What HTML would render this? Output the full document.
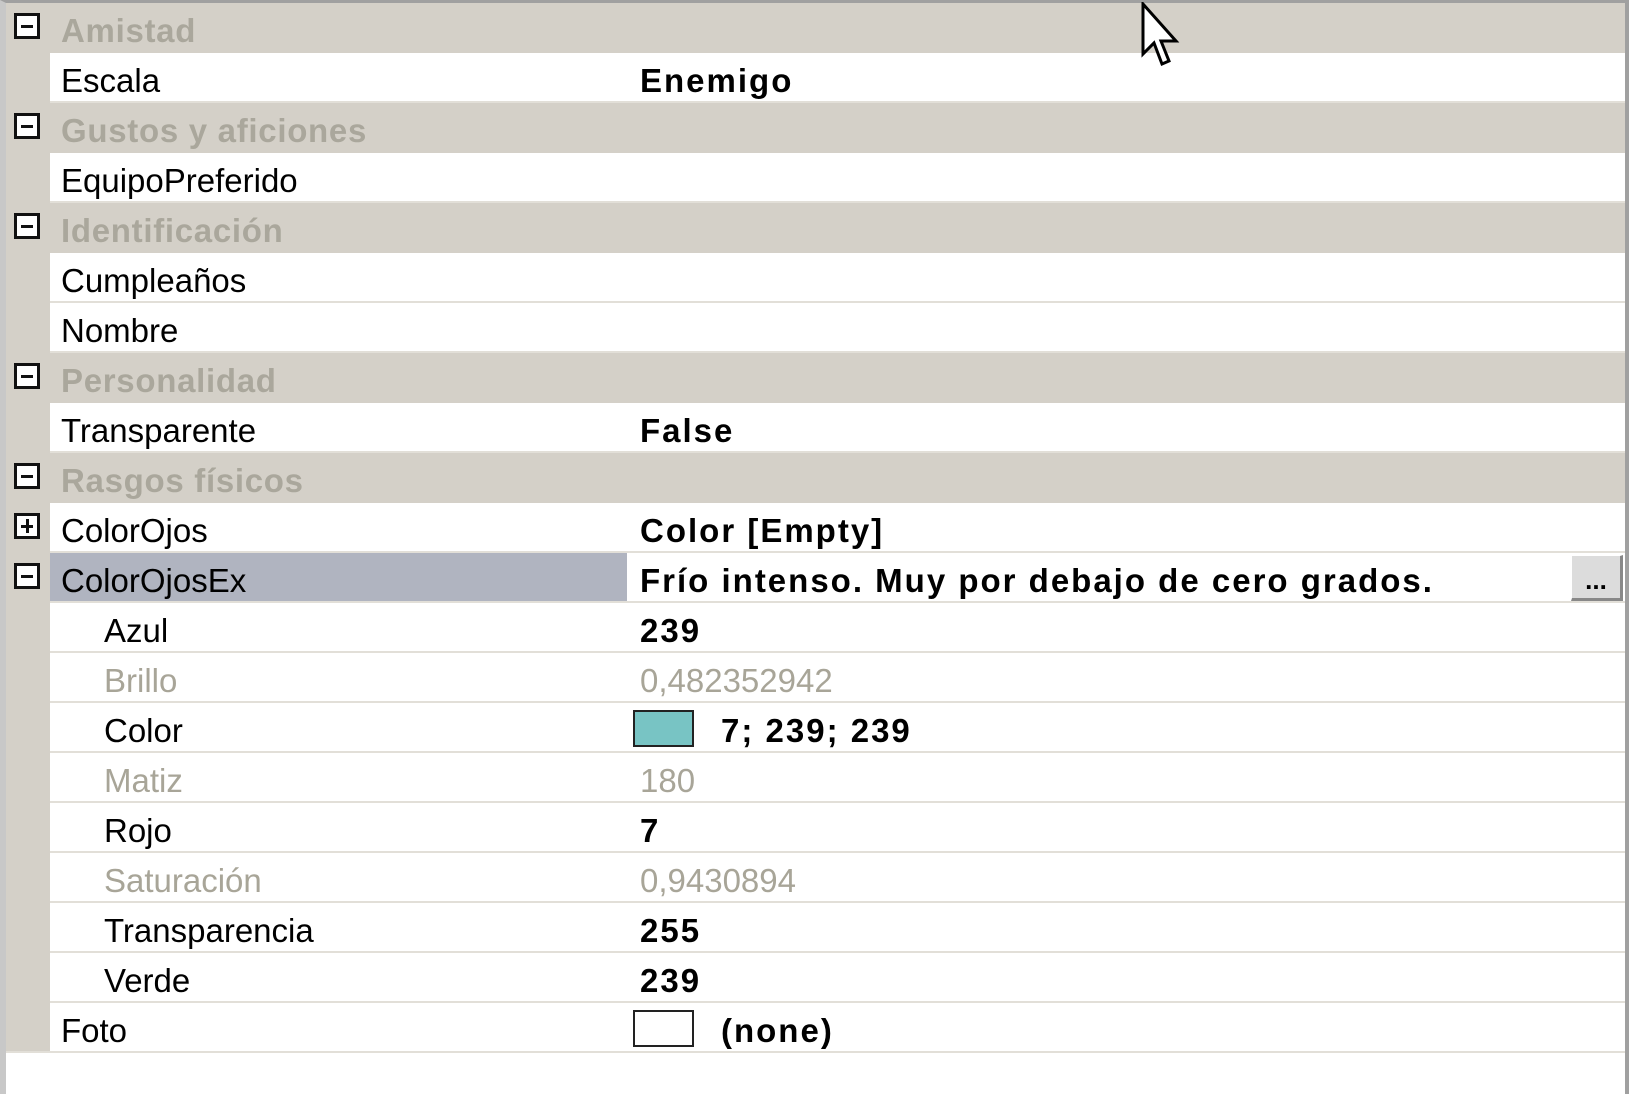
<!DOCTYPE html>
<html><head><meta charset="utf-8"><style>
*{margin:0;padding:0;box-sizing:border-box}
body{width:1629px;height:1094px;background:#fff;position:relative;overflow:hidden;font-family:"Liberation Sans",Arial,sans-serif;font-size:33px;color:#000}
.fr{position:absolute;left:0;top:0;width:1629px;height:1094px;border-left:6px solid #c8c8c8;border-top:3px solid #a0a0a0;border-right:4px solid #a0a0a0}
.r{position:absolute;left:6px;width:1619px;height:50px}
.cat{background:#d4d0c8}
.cat span{position:absolute;left:55px;top:9px;font-weight:bold;color:#aaa79c;letter-spacing:0.7px}
.m{position:absolute;left:0;top:0;width:44px;height:50px;background:#d4d0c8}
.n{position:absolute;left:44px;top:0;width:577px;height:48px;background:#fff}
.v{position:absolute;left:623px;top:0;width:996px;height:48px;background:#fff}
.sel .n{background:#b0b4c0}
.r .t{position:absolute;top:9px;white-space:nowrap}
.nm{left:55px}.sub{left:98px}
.val{left:634px}
.b{font-weight:bold;letter-spacing:2px}
.g{color:#a8a598}
.box{position:absolute;left:8px;top:10px;width:26px;height:26px;border:3px solid #111;background:#fff}
.box:before{content:"";position:absolute;left:4px;top:9px;width:12px;height:3px;background:#111}
.plus:after{content:"";position:absolute;left:8.5px;top:3px;width:3px;height:14px;background:#111}
.line{position:absolute;left:44px;width:1575px;height:2px;background:#e2dfd8;top:48px}
.sw{position:absolute;left:627px;top:7px;width:61px;height:37px;border:2px solid #222}
.btn{position:absolute;right:2px;top:2px;width:52px;height:46px;background:#dcdcdc;border-right:3px solid #888;border-bottom:3px solid #888;border-top:1px solid #fff;border-left:1px solid #fff;font-weight:bold;font-size:26px;text-align:center;line-height:48px}
</style></head><body>
<div class="fr"></div>

<div class="r cat" style="top:3px"><div class="box"></div><span>Amistad</span></div>
<div class="r" style="top:53px"><div class="m"></div><div class="n"></div><div class="v"></div><div class="line"></div><span class="t nm">Escala</span><span class="t val b">Enemigo</span></div>
<div class="r cat" style="top:103px"><div class="box"></div><span>Gustos y aficiones</span></div>
<div class="r" style="top:153px"><div class="m"></div><div class="n"></div><div class="v"></div><div class="line"></div><span class="t nm">EquipoPreferido</span></div>
<div class="r cat" style="top:203px"><div class="box"></div><span>Identificación</span></div>
<div class="r" style="top:253px"><div class="m"></div><div class="n"></div><div class="v"></div><div class="line"></div><span class="t nm">Cumpleaños</span></div>
<div class="r" style="top:303px"><div class="m"></div><div class="n"></div><div class="v"></div><div class="line"></div><span class="t nm">Nombre</span></div>
<div class="r cat" style="top:353px"><div class="box"></div><span>Personalidad</span></div>
<div class="r" style="top:403px"><div class="m"></div><div class="n"></div><div class="v"></div><div class="line"></div><span class="t nm">Transparente</span><span class="t val b">False</span></div>
<div class="r cat" style="top:453px"><div class="box"></div><span>Rasgos físicos</span></div>
<div class="r" style="top:503px"><div class="m"></div><div class="box plus"></div><div class="n"></div><div class="v"></div><div class="line"></div><span class="t nm">ColorOjos</span><span class="t val b">Color [Empty]</span></div>
<div class="r sel" style="top:553px"><div class="m"></div><div class="box"></div><div class="n"></div><div class="v"></div><div class="line"></div><span class="t nm">ColorOjosEx</span><span class="t val b">Frío intenso. Muy por debajo de cero grados.</span><div class="btn">...</div></div>
<div class="r" style="top:603px"><div class="m"></div><div class="n"></div><div class="v"></div><div class="line"></div><span class="t sub">Azul</span><span class="t val b">239</span></div>
<div class="r" style="top:653px"><div class="m"></div><div class="n"></div><div class="v"></div><div class="line"></div><span class="t sub g">Brillo</span><span class="t val g">0,482352942</span></div>
<div class="r" style="top:703px"><div class="m"></div><div class="n"></div><div class="v"></div><div class="line"></div><span class="t sub">Color</span><div class="sw" style="background:#78c4c4"></div><span class="t b" style="left:715px">7; 239; 239</span></div>
<div class="r" style="top:753px"><div class="m"></div><div class="n"></div><div class="v"></div><div class="line"></div><span class="t sub g">Matiz</span><span class="t val g">180</span></div>
<div class="r" style="top:803px"><div class="m"></div><div class="n"></div><div class="v"></div><div class="line"></div><span class="t sub">Rojo</span><span class="t val b">7</span></div>
<div class="r" style="top:853px"><div class="m"></div><div class="n"></div><div class="v"></div><div class="line"></div><span class="t sub g">Saturación</span><span class="t val g">0,9430894</span></div>
<div class="r" style="top:903px"><div class="m"></div><div class="n"></div><div class="v"></div><div class="line"></div><span class="t sub">Transparencia</span><span class="t val b">255</span></div>
<div class="r" style="top:953px"><div class="m"></div><div class="n"></div><div class="v"></div><div class="line"></div><span class="t sub">Verde</span><span class="t val b">239</span></div>
<div class="r" style="top:1003px"><div class="m"></div><div class="n"></div><div class="v"></div><div class="line" style="left:0;width:1619px"></div><span class="t nm">Foto</span><div class="sw" style="background:#fff"></div><span class="t b" style="left:715px">(none)</span></div>

<svg style="position:absolute;left:1141px;top:2px" width="40" height="70" viewBox="0 0 40 70">
<path d="M2 2 L2 52 L13 41 L21 62 L28 59 L20 39 L35 39 Z" fill="#fff" stroke="#000" stroke-width="3" stroke-linejoin="miter"/>
</svg>
</body></html>
